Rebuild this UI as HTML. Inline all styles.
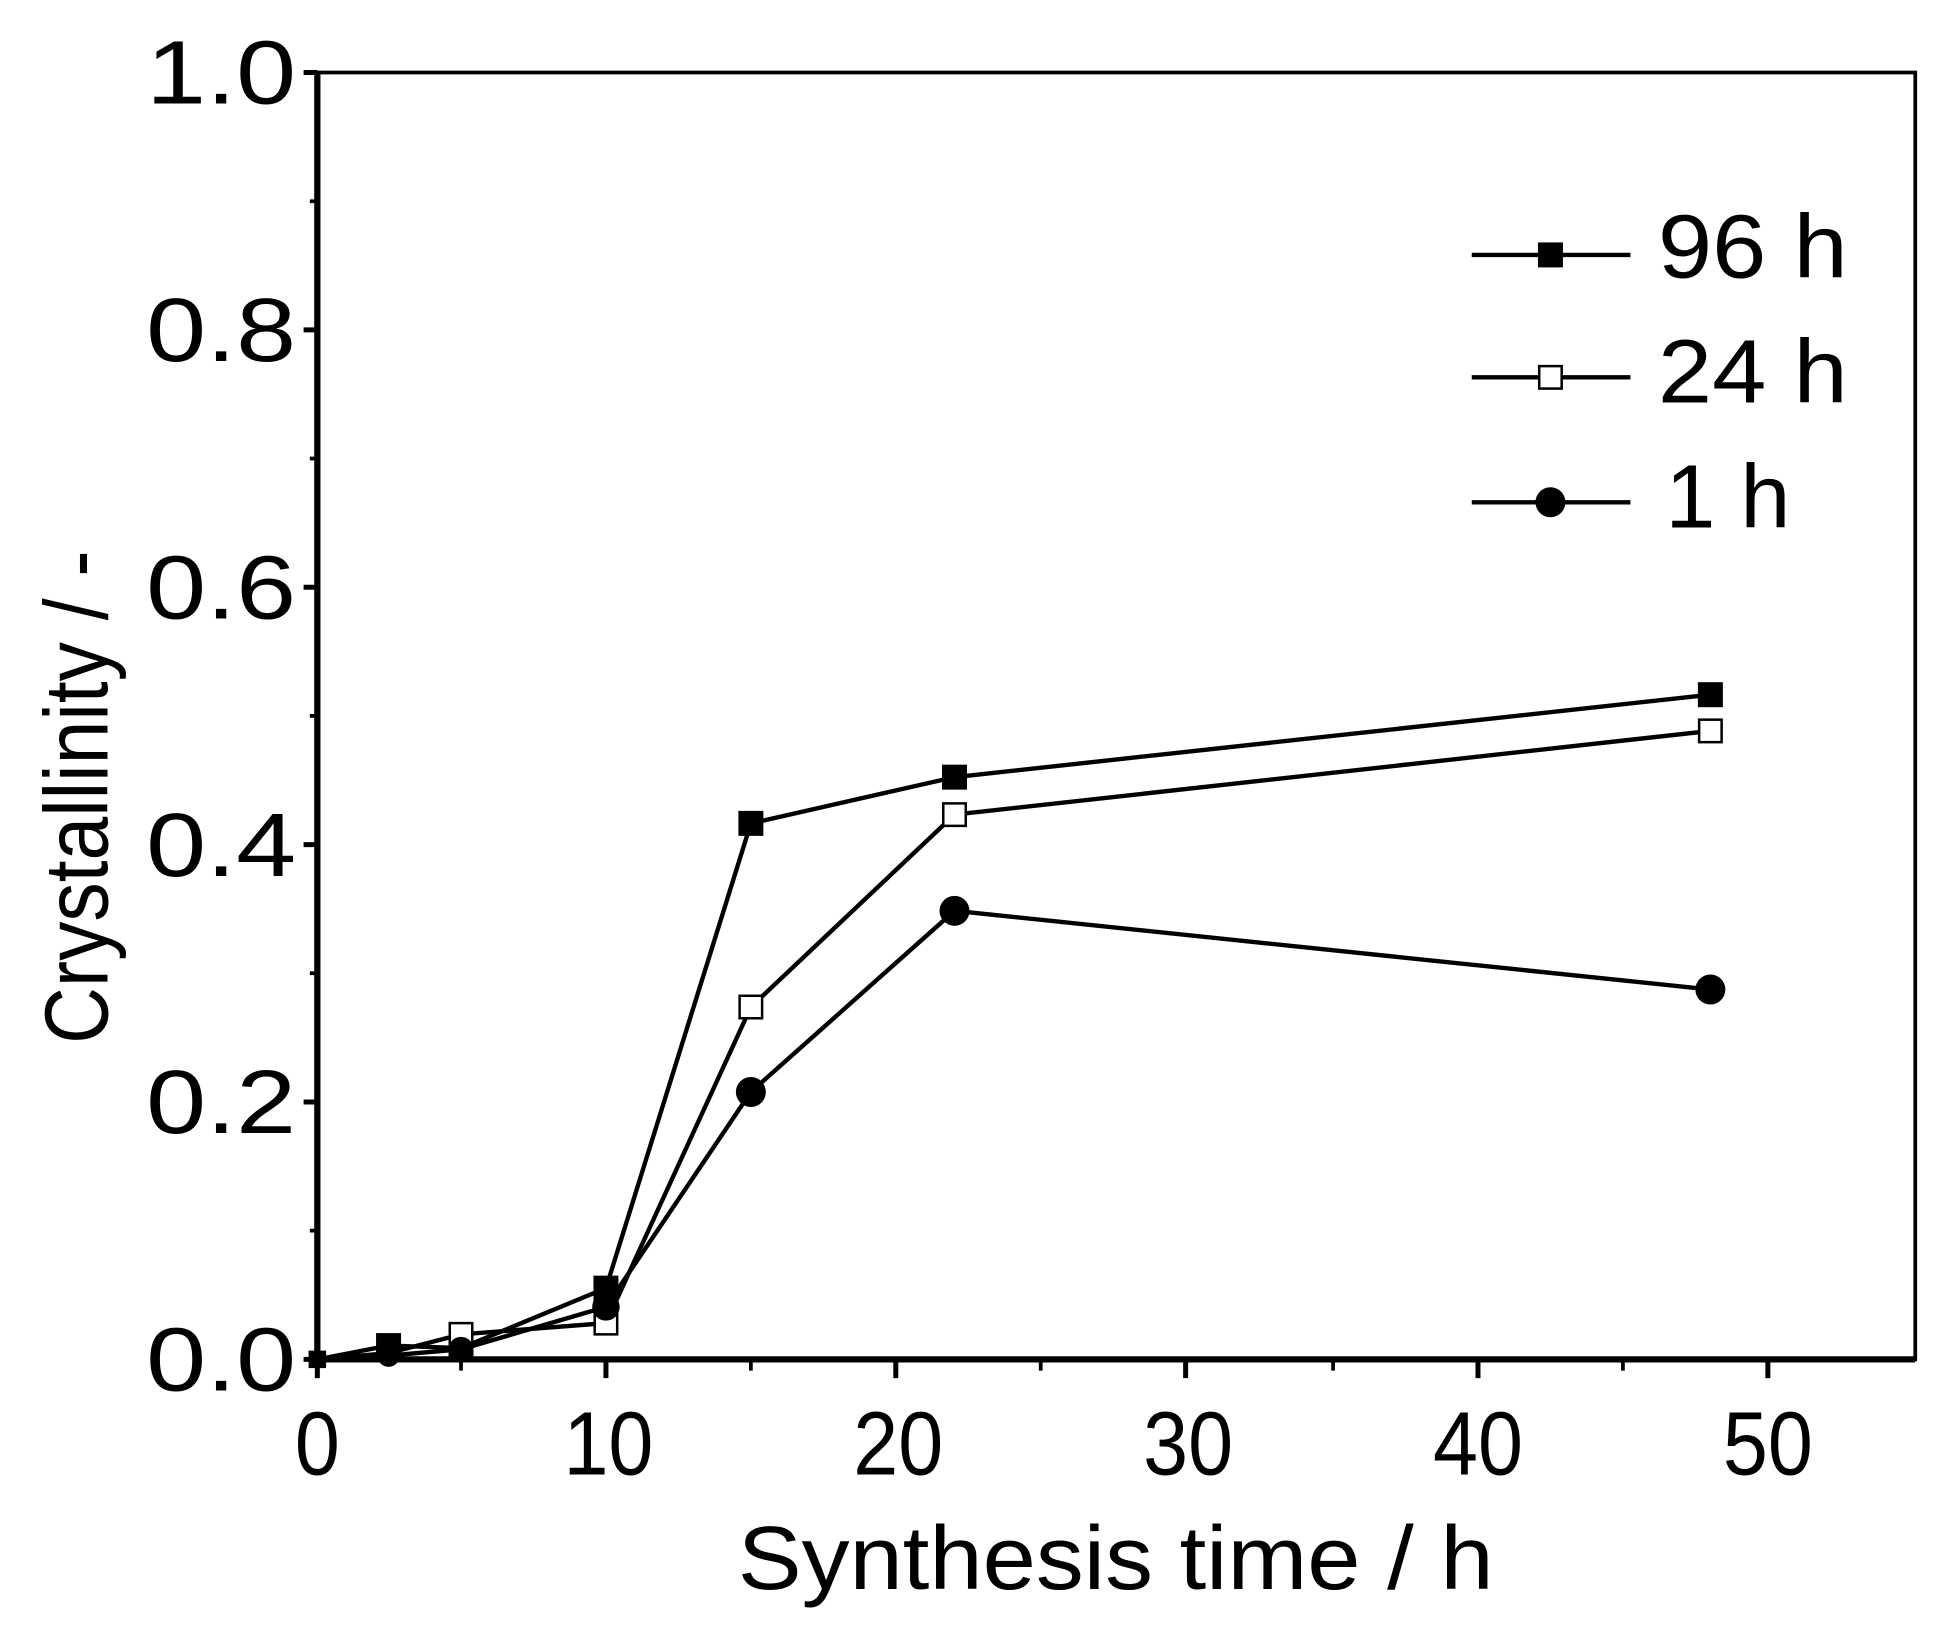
<!DOCTYPE html>
<html><head><meta charset="utf-8"><style>html,body{margin:0;padding:0;background:#fff}svg{display:block}</style></head>
<body>
<svg width="1949" height="1638" viewBox="0 0 1560 1311" xmlns="http://www.w3.org/2000/svg" font-family="Liberation Sans, Arial, sans-serif">
<g stroke="#000" stroke-width="4" fill="none">
<rect x="254" y="58" width="1279" height="1030" stroke-width="3"/>
<line x1="254" y1="58" x2="254" y2="1088" stroke-width="5"/>
<line x1="254" y1="1088" x2="1533" y2="1088" stroke-width="5"/>
<path d="M254 1088V1103M485 1088V1103M717 1088V1103M949 1088V1103M1183 1088V1103M1415 1088V1103"/>
<path d="M369 1088V1097M601 1088V1097M833 1088V1097M1067 1088V1097M1299 1088V1097" stroke-width="3"/>
<path d="M243 58H254M243 264H254M243 470H254M243 676H254M243 882H254M243 1088H254"/>
<path d="M248 161H254M248 367H254M248 573H254M248 779H254M248 985H254" stroke-width="3"/>
</g>
<g font-size="72" fill="#000">
<g text-anchor="end">
<text x="237" y="83" textLength="120" lengthAdjust="spacingAndGlyphs">1.0</text>
<text x="237" y="289" textLength="120" lengthAdjust="spacingAndGlyphs">0.8</text>
<text x="237" y="495" textLength="120" lengthAdjust="spacingAndGlyphs">0.6</text>
<text x="237" y="701" textLength="120" lengthAdjust="spacingAndGlyphs">0.4</text>
<text x="237" y="907" textLength="120" lengthAdjust="spacingAndGlyphs">0.2</text>
<text x="237" y="1113" textLength="120" lengthAdjust="spacingAndGlyphs">0.0</text>
</g>
<g text-anchor="middle">
<text x="254" y="1180" textLength="36" lengthAdjust="spacingAndGlyphs">0</text>
<text x="487" y="1180" textLength="72" lengthAdjust="spacingAndGlyphs">10</text>
<text x="719" y="1180" textLength="72" lengthAdjust="spacingAndGlyphs">20</text>
<text x="951" y="1180" textLength="72" lengthAdjust="spacingAndGlyphs">30</text>
<text x="1183" y="1180" textLength="72" lengthAdjust="spacingAndGlyphs">40</text>
<text x="1415" y="1180" textLength="72" lengthAdjust="spacingAndGlyphs">50</text>
<text x="893" y="1272" textLength="605" lengthAdjust="spacingAndGlyphs">Synthesis time / h</text>
<text transform="translate(86,638) rotate(-90)" textLength="395" lengthAdjust="spacingAndGlyphs">Crystallinity / -</text>
</g>
<text x="1327" y="222" textLength="152" lengthAdjust="spacingAndGlyphs">96 h</text>
<text x="1327" y="322" textLength="152" lengthAdjust="spacingAndGlyphs">24 h</text>
<text x="1333" y="422" textLength="100" lengthAdjust="spacingAndGlyphs">1 h</text>
</g>
<g stroke="#000" stroke-width="3.5" fill="none">
<polyline points="254,1088 311,1077 369,1079 485,1031 601,659 764,622 1369,556"/>
<polyline points="254,1088 311,1083 369,1068 485,1059 601,806 764,652 1369,585"/>
<polyline points="254,1088 311,1085 369,1080 485,1046 601,874 764,729 1369,792"/>
<path d="M1178 204H1305M1178 302H1305M1178 402H1305"/>
</g>
<g fill="#000">
<rect x="247" y="1081" width="14" height="14"/>
<rect x="301" y="1067" width="20" height="20"/>
<rect x="359" y="1069" width="20" height="20"/>
<rect x="475" y="1021" width="20" height="20"/>
<rect x="591" y="649" width="20" height="20"/>
<rect x="754" y="612" width="20" height="20"/>
<rect x="1359" y="546" width="20" height="20"/>
<rect x="1231" y="194" width="20" height="20"/>
</g>
<g fill="#fff" stroke="#000" stroke-width="2">
<rect x="360" y="1059" width="18" height="18"/>
<rect x="476" y="1050" width="18" height="18"/>
<rect x="592" y="797" width="18" height="18"/>
<rect x="755" y="643" width="18" height="18"/>
<rect x="1360" y="576" width="18" height="18"/>
<rect x="1232" y="293" width="18" height="18"/>
</g>
<g fill="#000">
<circle cx="311" cy="1085" r="9"/>
<circle cx="369" cy="1080" r="10"/>
<circle cx="485" cy="1046" r="11"/>
<circle cx="601" cy="874" r="12"/>
<circle cx="764" cy="729" r="12"/>
<circle cx="1369" cy="792" r="12"/>
<circle cx="1241" cy="402" r="12"/>
</g>
</svg>
</body></html>
